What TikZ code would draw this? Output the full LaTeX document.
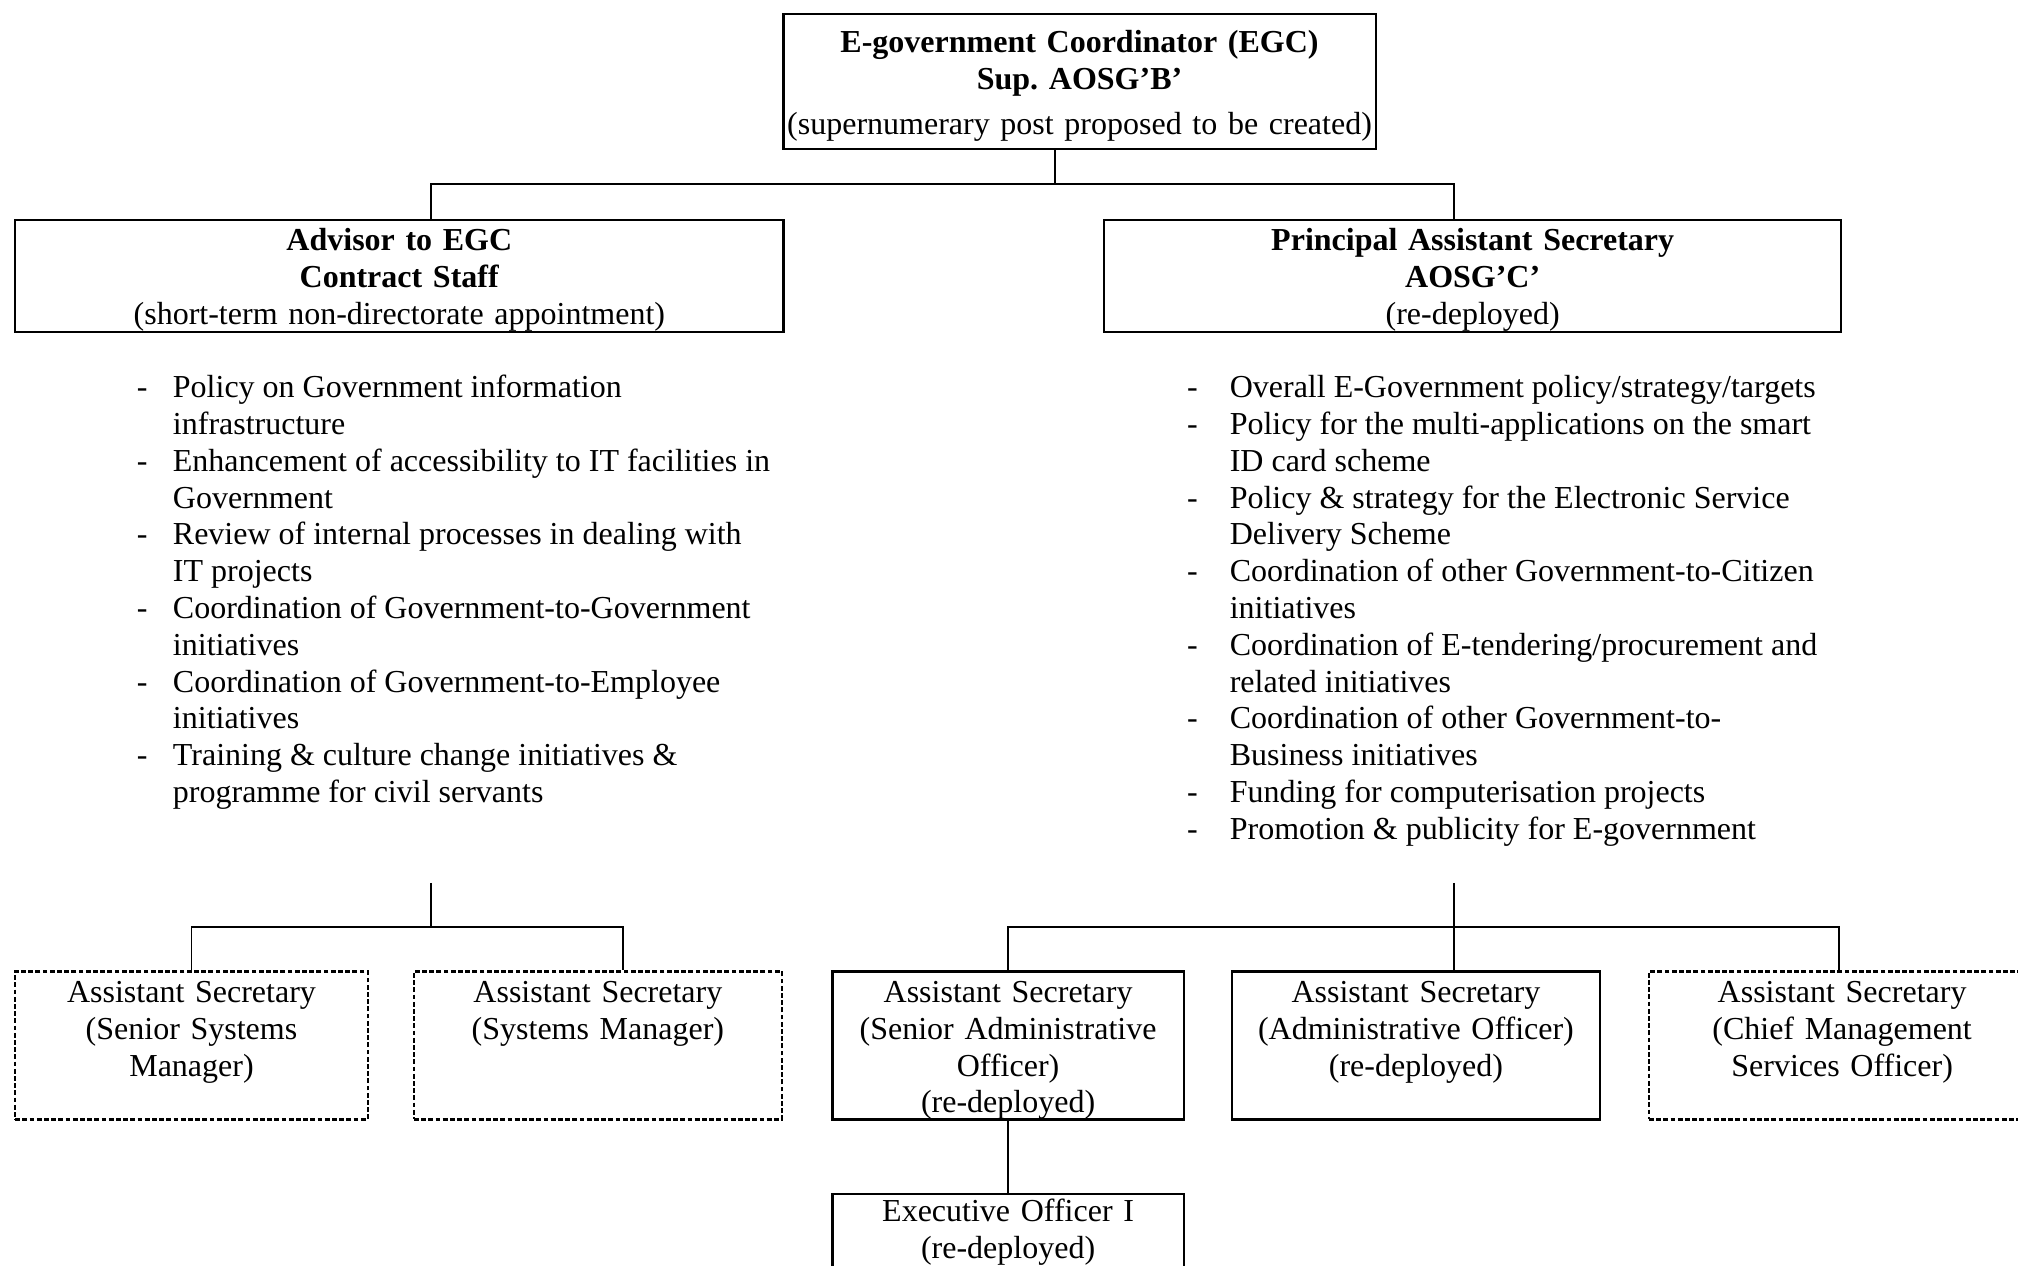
\documentclass[tikz,border=0pt]{standalone}
\usepackage{fontspec}
\setmainfont{Liberation Serif}
\frenchspacing
\usetikzlibrary{positioning}

\tikzset{
  post/.style={draw, line width=0.8pt, anchor=north west, inner xsep=0pt, inner ysep=0pt,
    align=center, text height=11.6pt},
  lowpost/.style={post, text depth=43.9pt},
  vacant/.style={lowpost, dash pattern=on 1.8pt off 0.9pt},
  link/.style={line width=0.7pt},
  duties/.style={anchor=base west, inner sep=0pt}
}

\begin{document}
\begin{tikzpicture}[x=0.4826pt, y=-0.4826pt, font=\fontsize{12}{13.8}\selectfont]
    \clip (0,0) rectangle (1568,983);

    % coordinator
    \node[post, text width=222pt, text height=14.5pt, text depth=36.2pt] (egc) at (608,10)
        {\textbf{E-government Coordinator (EGC)}\\ \textbf{Sup. AOSG’B’}\\[3pt] (supernumerary post proposed to be created)};

    % second level
    \node[post, text width=288.1pt, text depth=30.4pt] (advisor) at (11,170)
        {\textbf{Advisor to EGC}\\ \textbf{Contract Staff}\\ (short-term non-directorate appointment)};
    \node[post, text width=276.5pt, text depth=30.4pt] (pas) at (857,170)
        {\textbf{Principal Assistant Secretary}\\ \textbf{AOSG’C’}\\ (re-deployed)};

    % duties
    \node[duties] (advduties) at (106,309) {\begin{tabular}[t]{@{}p{13.5pt}@{}l@{}}
        - & Policy on Government information\\
          & infrastructure\\
        - & Enhancement of accessibility to IT facilities in\\
          & Government\\
        - & Review of internal processes in dealing with\\
          & IT projects\\
        - & Coordination of Government-to-Government\\
          & initiatives\\
        - & Coordination of Government-to-Employee\\
          & initiatives\\
        - & Training \& culture change initiatives \&\\
          & programme for civil servants
    \end{tabular}};
    \node[duties] (pasduties) at (922,309) {\begin{tabular}[t]{@{}p{16pt}@{}l@{}}
        - & Overall E-Government policy/strategy/targets\\
        - & Policy for the multi-applications on the smart\\
          & ID card scheme\\
        - & Policy \& strategy for the Electronic Service\\
          & Delivery Scheme\\
        - & Coordination of other Government-to-Citizen\\
          & initiatives\\
        - & Coordination of E-tendering/procurement and\\
          & related initiatives\\
        - & Coordination of other Government-to-\\
          & Business initiatives\\
        - & Funding for computerisation projects\\
        - & Promotion \& publicity for E-government
    \end{tabular}};

    % assistant secretaries
    \node[vacant, text width=132.2pt] (ssm) at (11,754)
        {Assistant Secretary\\ (Senior Systems\\ Manager)};
    \node[vacant, text width=138pt, right=16.5pt of ssm] (sm)
        {Assistant Secretary\\ (Systems Manager)};
    \node[lowpost, text width=131.7pt] (sao) at (646,754)
        {Assistant Secretary\\ (Senior Administrative\\ Officer)\\ (re-deployed)};
    \node[lowpost, text width=138pt, right=17.3pt of sao] (ao)
        {Assistant Secretary\\ (Administrative Officer)\\ (re-deployed)};
    \node[vacant, text width=144.8pt, right=17.6pt of ao] (cmso)
        {Assistant Secretary\\ (Chief Management\\ Services Officer)};
    \node[lowpost, text width=131.7pt, text height=10.6pt, below=27pt of sao] (eo)
        {Executive Officer I\\ (re-deployed)};

    % connectors
    \coordinate (tophub) at (820,143);
    \coordinate (leftfoot) at (335,686);
    \coordinate (lefthub) at (335,720);
    \coordinate (rightfoot) at (1130,686);
    \coordinate (righthub) at (1130,720);

    \draw[link] (tophub |- egc.south) -- (tophub);
    \draw[link] (335,0 |- advisor.north) |- (tophub) -| (1130,0 |- pas.north);

    \draw[link] (leftfoot) -- (lefthub);
    \draw[link] (ssm.north) |- (lefthub) -| (484,0 |- sm.north);

    \draw[link] (rightfoot) -- (1130,0 |- ao.north);
    \draw[link] (sao.north) |- (righthub) -| (1429,0 |- cmso.north);
    \draw[link] (sao.south) -- (eo.north);
\end{tikzpicture}
\end{document}
